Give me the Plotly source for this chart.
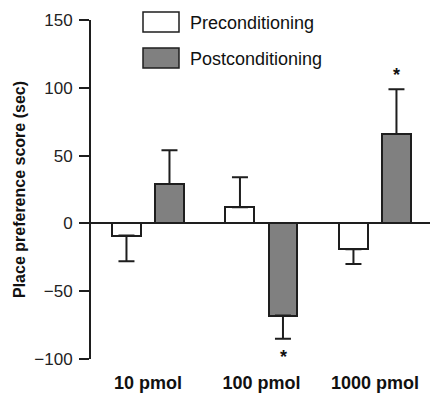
import plotly.graph_objects as go

categories = ["10 pmol", "100 pmol", "1000 pmol"]
pre_mean = [-9, 12, -19]
pre_se = [19, 22, 11]
post_mean = [29, -68, 66]
post_se = [25, 17, 33]
series_names = ["Preconditioning", "Postconditioning"]
significant_post = [False, True, True]
ytick_vals = [-100, -50, 0, 50, 100, 150]

FONT = "Liberation Sans, Arial, sans-serif"
EDGE = "#1e1e1e"
GRAY = "#808080"

def up_err(m, s):
    return [v if mm >= 0 else 0 for mm, v in zip(m, s)]

def down_err(m, s):
    return [v if mm < 0 else 0 for mm, v in zip(m, s)]

fig = go.Figure()
for name, means, ses, fill, off in [
    (series_names[0], pre_mean, pre_se, "white", -0.317),
    (series_names[1], post_mean, post_se, GRAY, 0.062),
]:
    fig.add_trace(go.Bar(
        x=categories, y=means, name=name, width=0.255, offset=off,
        marker=dict(color=fill, line=dict(color=EDGE, width=2)),
        error_y=dict(type="data", symmetric=False,
                     array=up_err(means, ses), arrayminus=down_err(means, ses),
                     color=EDGE, thickness=2, width=8),
        showlegend=False,
    ))

# significance stars
for i, sig in enumerate(significant_post):
    if not sig:
        continue
    m, s = post_mean[i], post_se[i]
    if m >= 0:
        fig.add_annotation(x=i + 0.19, y=m + s, text="<b>*</b>", showarrow=False,
                           yanchor="bottom", yshift=2, font=dict(size=18, color="#111", family=FONT))
    else:
        fig.add_annotation(x=i + 0.19, y=m - s, text="<b>*</b>", showarrow=False,
                           yanchor="top", yshift=-6, font=dict(size=18, color="#111", family=FONT))

# manual legend
legend_fills = ["white", GRAY]
for k, (nm, fc) in enumerate(zip(series_names, legend_fills)):
    fig.add_shape(type="rect", xref="paper", yref="paper",
                  x0=(143 - 91) / 339, x1=(179 - 91) / 339,
                  y0=(359 - (12 + 36 * k + 20)) / 339, y1=(359 - (12 + 36 * k)) / 339,
                  fillcolor=fc, line=dict(color=EDGE, width=1.5))
    fig.add_annotation(xref="paper", yref="paper", x=(188 - 91) / 339,
                       y=(359 - (23 + 36 * k)) / 339, text=nm, showarrow=False,
                       xanchor="left", yanchor="middle",
                       font=dict(size=18, color="#111", family=FONT))

fig.update_layout(
    width=430, height=393,
    margin=dict(l=91, r=0, t=20, b=34),
    plot_bgcolor="white", paper_bgcolor="white",
    font=dict(family=FONT, color="#111"),
    bargap=0,
    xaxis=dict(type="category", range=[-0.502, 2.485], showline=False, ticks="",
               showgrid=False, zeroline=False, ticklabelstandoff=11,
               tickfont=dict(size=18, family="Liberation Sans, Arial", color="#111"),
               tickmode="array", tickvals=categories,
               ticktext=["<b>%s</b>" % c for c in categories]),
    yaxis=dict(range=[-100, 150], tickvals=ytick_vals, showgrid=False,
               showline=True, linecolor=EDGE, linewidth=2,
               ticks="outside", ticklen=10, tickwidth=2, tickcolor=EDGE,
               ticklabelstandoff=3,
               tickfont=dict(size=17, family=FONT, color="#222"),
               zeroline=True, zerolinecolor=EDGE, zerolinewidth=2,
               title=dict(text="<b>Place preference score (sec)</b>",
                          font=dict(size=16, family=FONT, color="#111"), standoff=5)),
)

fig.write_html("out.html")
